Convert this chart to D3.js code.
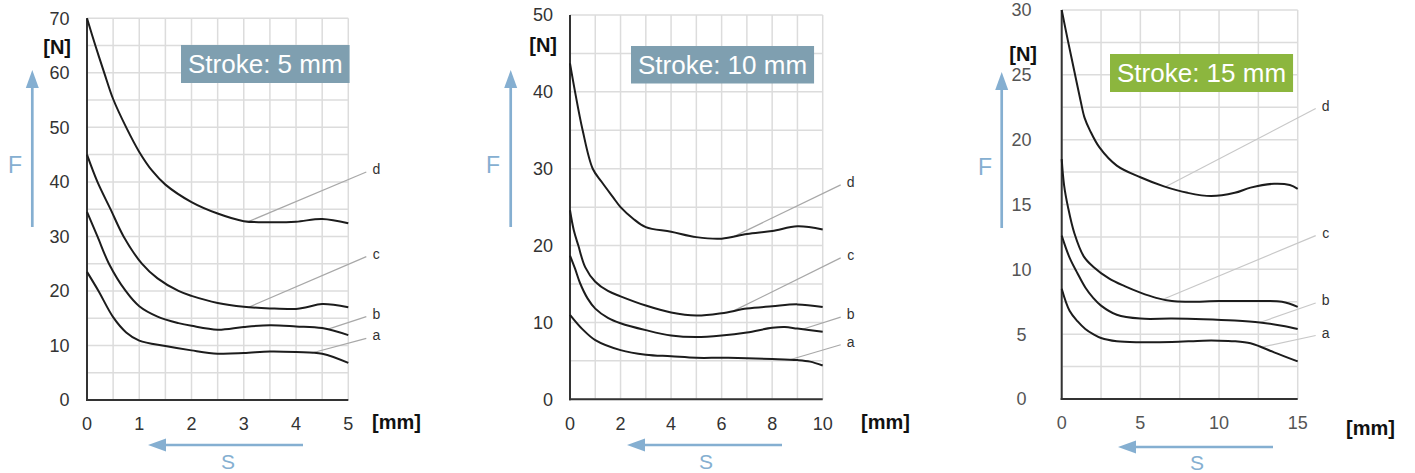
<!DOCTYPE html>
<html>
<head>
<meta charset="UTF-8">
<title>Force vs travel</title>
<script src="https://cdn.jsdelivr.net/npm/d3@7"></script>
<style>
  body { margin: 0; background: #fff; }
  text { font-family: "Liberation Sans", Arial, sans-serif; }
</style>
</head>
<body>
<script>
// ---- data: [s in mm, F in N] ----
var stroke5_a = [[0,23.5],[0.22,20],[0.5,15.2],[0.75,12.4],[1,10.9],[1.5,9.9],[2,9.1],[2.5,8.5],[3,8.6],[3.5,8.9],[4,8.8],[4.5,8.5],[5,6.8]];
var stroke5_b = [[0,34.5],[0.2,30],[0.42,25],[0.74,20],[1,17.2],[1.35,15.3],[1.75,14.1],[2,13.6],[2.5,12.9],[3,13.4],[3.5,13.7],[4,13.5],[4.5,13.2],[5,11.9]];
var stroke5_c = [[0,45],[0.2,40],[0.45,35],[0.7,30],[1.05,25],[1.35,22.3],[1.75,20],[2,19.1],[2.5,17.8],[3,17.1],[3.5,16.8],[4,16.7],[4.2,17],[4.5,17.6],[5,17]];
var stroke5_d = [[0,70],[0.16,65],[0.33,60],[0.5,55.2],[0.75,50],[1,45.5],[1.25,42],[1.5,39.5],[2,36.3],[2.5,34.2],[3,32.8],[3.5,32.6],[4,32.7],[4.5,33.2],[5,32.4]];

var stroke10_a = [[0,11],[0.5,9.1],[1,7.7],[2,6.4],[3,5.8],[4,5.6],[5,5.4],[6,5.4],[7,5.35],[8,5.25],[9,5.1],[9.5,4.9],[10,4.4]];
var stroke10_b = [[0,18.7],[0.2,17],[0.4,15.1],[0.7,13.1],[1,11.8],[1.5,10.6],[2,9.9],[3,9],[4,8.3],[5,8.1],[6,8.3],[7,8.7],[8,9.3],[8.5,9.4],[9,9.2],[10,8.8]];
var stroke10_c = [[0,24.6],[0.15,22],[0.33,20],[0.6,17.2],[1,15.3],[1.5,14.1],[2,13.4],[3,12.2],[4,11.3],[5,10.9],[6,11.2],[7,11.8],[8,12.1],[9,12.35],[10,12]];
var stroke10_d = [[0,43.7],[0.2,40],[0.5,35],[0.9,30],[1.25,28.3],[1.7,26.3],[2,25],[2.5,23.5],[3,22.4],[4,21.8],[5,21.1],[6,20.9],[7,21.5],[8,21.9],[9,22.5],[10,22.1]];

var stroke15_a = [[0,8.5],[0.5,6.8],[1,6],[1.5,5.4],[2,5],[2.5,4.7],[3.5,4.45],[5,4.38],[7,4.4],[9,4.5],[10,4.5],[11,4.45],[12,4.3],[12.6,4.05],[13.5,3.6],[15,2.9]];
var stroke15_b = [[0,12.6],[0.5,10.9],[1,9.7],[1.5,8.6],[2,7.8],[2.5,7.2],[3.5,6.5],[5,6.2],[7,6.2],[9,6.15],[11,6.05],[12.6,5.9],[14,5.65],[15,5.4]];
var stroke15_c = [[0,18.5],[0.15,16.5],[0.4,14.8],[0.8,12.8],[1.4,11],[2,10.2],[3,9.3],[4,8.7],[5,8.2],[6,7.8],[7,7.55],[8,7.5],[10,7.55],[12,7.55],[14,7.5],[15,7.1]];
var stroke15_d = [[0,30],[0.4,27.6],[0.8,25.3],[1.2,23],[1.45,21.7],[1.8,20.7],[2.4,19.4],[3.5,18],[5,17.1],[6.5,16.4],[8,15.9],[9.5,15.65],[11,15.9],[12,16.3],[13.5,16.6],[14.5,16.5],[15,16.2]];

// tick labels
var xTicks5 = [0,1,2,3,4,5],  yTicks5 = [0,10,20,30,40,50,60,70];
var xTicks10 = [0,2,4,6,8,10], yTicks10 = [0,10,20,30,40,50];
var xTicks15 = [0,5,10,15],    yTicks15 = [0,5,10,15,20,25,30];

// curve labels: [name, s where the leader meets the curve, F at the label end]
var leaders5  = [["d",3.1,41.8],["c",3.1,26.3],["b",4.6,15.3],["a",4.3,11.3]];
var leaders10 = [["d",6.5,27.9],["c",6.45,18.4],["b",9.2,10.7],["a",8.7,7.1]];
var leaders15 = [["d",6.6,22.4],["c",6.45,12.6],["b",12.6,7.4],["a",12.7,4.9]];

var titles = ["Stroke: 5 mm", "Stroke: 10 mm", "Stroke: 15 mm"];
var titleColors = ["#7f9fb0", "#7f9fb0", "#8cb63e"];

var blue = "#85afd1";

var svg = d3.select("body").append("svg")
  .attr("width", 1415)
  .attr("height", 473);

var panels = [
  { curves: [stroke5_a, stroke5_b, stroke5_c, stroke5_d], leaders: leaders5,
    xTicks: xTicks5, yTicks: yTicks5, xMax: 5, yMax: 70, xStep: 0.5, yStep: 5,
    x0: 87, x1: 348.3, y0: 400, y1: 18.3, yLabelX: 69.5, yAnchor: "end", yCol: "#333", lead: "#a8a8a8",
    box: [181, 45, 38], nx: 71, ny: 47, mmx: 372, mmy: 422,
    fx: 32.3, ftip: 70, ftail: 227, fLab: [15, 165],
    sy: 445, stip: 148, stail: 303, sLab: [228, 461] },
  { curves: [stroke10_a, stroke10_b, stroke10_c, stroke10_d], leaders: leaders10,
    xTicks: xTicks10, yTicks: yTicks10, xMax: 10, yMax: 50, xStep: 1, yStep: 5,
    x0: 570, x1: 822.7, y0: 399.3, y1: 15, yLabelX: 553, yAnchor: "end", yCol: "#333", lead: "#a8a8a8",
    box: [631, 46, 37.5], nx: 557, ny: 45, mmx: 861, mmy: 422,
    fx: 510.7, ftip: 70, ftail: 227, fLab: [493, 165],
    sy: 445, stip: 627, stail: 782, sLab: [706, 461] },
  { curves: [stroke15_a, stroke15_b, stroke15_c, stroke15_d], leaders: leaders15,
    xTicks: xTicks15, yTicks: yTicks15, xMax: 15, yMax: 30, xStep: 2.5, yStep: 2.5,
    x0: 1061.7, x1: 1297.7, y0: 399, y1: 10, yLabelX: 1021.5, yAnchor: "middle", yCol: "#555", lead: "#c8c8c8",
    box: [1110, 54, 38], nx: 1037, ny: 54, mmx: 1346, mmy: 428,
    fx: 1001.7, ftip: 72, ftail: 228, fLab: [985, 167],
    sy: 447, stip: 1118, stail: 1273, sLab: [1197, 462] }
];

// F value on a curve at s (straight between read points, only used to pin the leaders)
function valueAt(pts, s) {
  for (var i = 1; i < pts.length; i++) {
    if (s <= pts[i][0]) {
      var t = (s - pts[i-1][0]) / (pts[i][0] - pts[i-1][0]);
      return pts[i-1][1] + t * (pts[i][1] - pts[i-1][1]);
    }
  }
  return pts[pts.length-1][1];
}

panels.forEach(function (p, k) {
  var g = svg.append("g");
  var x = d3.scaleLinear().domain([0, p.xMax]).range([p.x0, p.x1]);
  var y = d3.scaleLinear().domain([0, p.yMax]).range([p.y0, p.y1]);

  // grid
  g.selectAll(".vg").data(d3.range(0, p.xMax + 1e-6, p.xStep))
    .enter().append("line")
    .attr("x1", function (d) { return x(d); }).attr("x2", function (d) { return x(d); })
    .attr("y1", p.y0).attr("y2", p.y1)
    .style("stroke", "#dcdcdc").style("stroke-width", 1.5);
  g.selectAll(".hg").data(d3.range(0, p.yMax + 1e-6, p.yStep))
    .enter().append("line")
    .attr("x1", p.x0).attr("x2", p.x1)
    .attr("y1", function (d) { return y(d); }).attr("y2", function (d) { return y(d); })
    .style("stroke", "#dcdcdc").style("stroke-width", 1.5);

  // axes
  g.append("line").attr("x1", p.x0).attr("x2", p.x0).attr("y1", p.y0 + 1).attr("y2", p.y1)
    .style("stroke", "#333").style("stroke-width", 2);
  g.append("line").attr("x1", p.x0 - 1).attr("x2", p.x1).attr("y1", p.y0).attr("y2", p.y0)
    .style("stroke", "#333").style("stroke-width", 2);

  // tick labels
  g.selectAll(".yt").data(p.yTicks).enter().append("text")
    .attr("x", p.yLabelX).attr("y", function (d) { return y(d); })
    .attr("dy", "0.36em").attr("text-anchor", p.yAnchor)
    .style("font-size", "18px").style("fill", p.yCol)
    .text(function (d) { return d; });
  g.selectAll(".xt").data(p.xTicks).enter().append("text")
    .attr("x", function (d) { return x(d); }).attr("y", p.y0 + 24)
    .attr("dy", "0.36em").attr("text-anchor", "middle")
    .style("font-size", "18px").style("fill", p.yCol)
    .text(function (d) { return d; });

  // units
  g.append("text").attr("x", p.nx).attr("y", p.ny).attr("dy", "0.36em")
    .attr("text-anchor", "end").style("font-size", "20px").style("font-weight", "bold")
    .style("fill", "#111").text("[N]");
  g.append("text").attr("x", p.mmx).attr("y", p.mmy).attr("dy", "0.36em")
    .style("font-size", "20px").style("font-weight", "bold")
    .style("fill", "#111").text("[mm]");

  // leader lines + letters
  p.leaders.forEach(function (l) {
    var pts = p.curves["abcd".indexOf(l[0])];
    g.append("line")
      .attr("x1", x(l[1])).attr("y1", y(valueAt(pts, l[1])))
      .attr("x2", p.x1 + 18).attr("y2", y(l[2]))
      .style("stroke", p.lead).style("stroke-width", 1.2);
    g.append("text").attr("x", p.x1 + 28).attr("y", y(l[2]) - 3).attr("dy", "0.36em")
      .attr("text-anchor", "middle").style("font-size", "14px").style("fill", "#333")
      .text(l[0]);
  });

  // curves
  var line = d3.line()
    .x(function (d) { return x(d[0]); })
    .y(function (d) { return y(d[1]); })
    .curve(d3.curveCatmullRom.alpha(0.5));
  g.selectAll(".curve").data(p.curves).enter().append("path")
    .attr("d", line)
    .style("fill", "none").style("stroke", "#1c1c1c").style("stroke-width", 2);

  // title box
  var tt = g.append("text").attr("x", p.box[0] + 7).attr("y", p.box[1] + p.box[2] / 2)
    .attr("dy", "0.36em").style("font-size", "26px").style("fill", "#fff")
    .text(titles[k]);
  var w = tt.node().getComputedTextLength();
  g.insert("rect", function () { return tt.node(); })
    .attr("x", p.box[0]).attr("y", p.box[1])
    .attr("width", w + 14).attr("height", p.box[2])
    .style("fill", titleColors[k]);

  // F arrow
  g.append("line").attr("x1", p.fx).attr("x2", p.fx).attr("y1", p.ftail).attr("y2", p.ftip + 12)
    .style("stroke", blue).style("stroke-width", 2.7);
  g.append("path")
    .attr("d", "M" + (p.fx - 6.5) + "," + (p.ftip + 18) + "L" + p.fx + "," + p.ftip + "L" + (p.fx + 6.5) + "," + (p.ftip + 18) + "Z")
    .style("fill", blue);
  g.append("text").attr("x", p.fLab[0]).attr("y", p.fLab[1]).attr("dy", "0.36em")
    .attr("text-anchor", "middle").style("font-size", "23px").style("fill", blue).text("F");

  // S arrow
  g.append("line").attr("x1", p.stail).attr("x2", p.stip + 12).attr("y1", p.sy).attr("y2", p.sy)
    .style("stroke", blue).style("stroke-width", 2.7);
  g.append("path")
    .attr("d", "M" + (p.stip + 18) + "," + (p.sy - 6.5) + "L" + p.stip + "," + p.sy + "L" + (p.stip + 18) + "," + (p.sy + 6.5) + "Z")
    .style("fill", blue);
  g.append("text").attr("x", p.sLab[0]).attr("y", p.sLab[1]).attr("dy", "0.36em")
    .attr("text-anchor", "middle").style("font-size", "21px").style("fill", blue).text("S");
});
</script>
</body>
</html>
